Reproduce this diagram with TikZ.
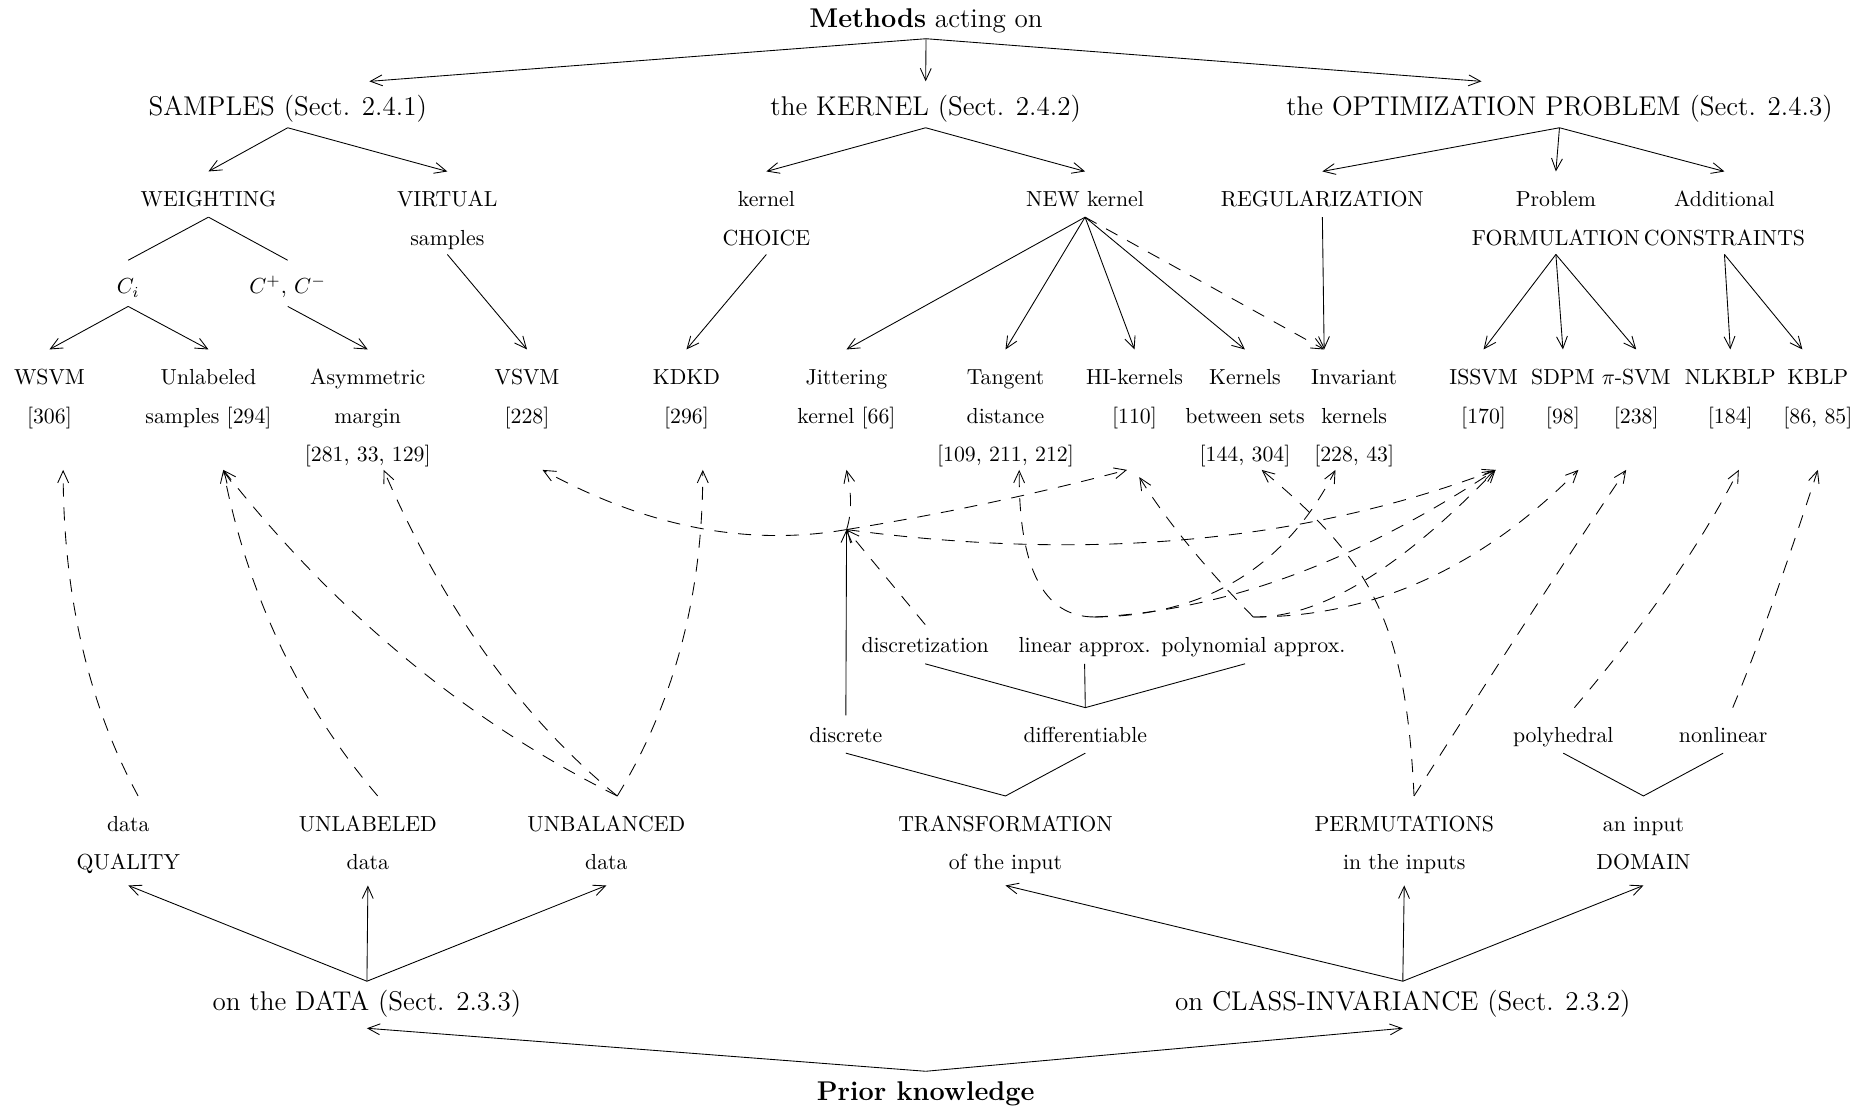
\documentclass[tikz,border=0pt]{standalone}
\usetikzlibrary{arrows.meta}

\newcommand{\nxt}{\\[5.65pt]}
\tikzset{
  lbl/.style={inner sep=0pt, align=center, anchor=base, text height=16pt},
  big/.style={lbl, font=\fontsize{12.45pt}{15pt}\selectfont},
  two/.style={text height=33.65pt},
  three/.style={text height=51.3pt},
  dp/.style={text depth=#1},
  dep/.style={->, dash pattern=on 6pt off 5pt}
}

\begin{document}
\begin{tikzpicture}[x=0.01922cm, y=-0.01922cm, >={Straight Barb[length=5.5pt,width=5pt]}]
\useasboundingbox (0,0) rectangle (1568,929);

\node[big, text height=9pt, dp=5pt] (methods) at (777.3,23) {\textbf{Methods} acting on};
\node[big, text height=15.5pt, dp=5.4pt] (samples) at (241.5,97) {SAMPLES (Sect. 2.4.1)};
\node[big, text height=15.5pt, dp=5.4pt] (kernel) at (777,97) {the KERNEL (Sect. 2.4.2)};
\node[big, text height=15.5pt, dp=5.4pt] (optim) at (1309,97) {the OPTIMIZATION PROBLEM (Sect. 2.4.3)};

\node[lbl, dp=4.6pt] (weighting) at (175,173.5) {WEIGHTING};
\node[lbl, two, dp=4.05pt] (virtual) at (375.5,205.8) {VIRTUAL\nxt samples};
\node[lbl, two, dp=4.05pt] (choice) at (643.3,205.8) {kernel\nxt CHOICE};
\node[lbl, dp=4.6pt] (newkernel) at (910.8,173.5) {NEW kernel};
\node[lbl, dp=4.6pt] (regul) at (1110,173.5) {REGULARIZATION};
\node[lbl, two, dp=4.05pt] (formul) at (1306,205.8) {Problem\nxt FORMULATION};
\node[lbl, two, dp=4.05pt] (constr) at (1447.5,205.8) {Additional\nxt CONSTRAINTS};

\node[lbl, text height=15.2pt, dp=5.6pt] (ci) at (107.6,246.6) {$C_i$};
\node[lbl, text height=15.2pt, dp=5.6pt] (cpm) at (241.5,246.6) {$C^+$, $C^-$};

\node[lbl, two, dp=21.25pt] (wsvm) at (41.5,355.2) {WSVM\nxt{[306]}};
\node[lbl, two, dp=21.25pt] (unlab) at (175,355.2) {Unlabeled\nxt samples [294]};
\node[lbl, three, dp=3.6pt] (asym) at (308.7,387.5) {Asymmetric\nxt margin\nxt{[281, 33, 129]}};
\node[lbl, two, dp=21.25pt] (vsvm) at (442.4,355.2) {VSVM\nxt{[228]}};
\node[lbl, two, dp=21.25pt] (kdkd) at (576.2,355.2) {KDKD\nxt{[296]}};
\node[lbl, two, dp=21.25pt] (jitter) at (710.5,355.2) {Jittering\nxt kernel [66]};
\node[lbl, three, dp=3.6pt] (tangent) at (844,387.5) {Tangent\nxt distance\nxt{[109, 211, 212]}};
\node[lbl, two, dp=21.25pt] (hik) at (952.3,355.2) {HI-kernels\nxt{[110]}};
\node[lbl, three, dp=3.6pt] (kbs) at (1045,387.5) {Kernels\nxt between sets\nxt{[144, 304]}};
\node[lbl, three, dp=3.6pt] (invariant) at (1136.7,387.5) {Invariant\nxt kernels\nxt{[228, 43]}};
\node[lbl, two, dp=21.25pt] (issvm) at (1245.3,355.2) {ISSVM\nxt{[170]}};
\node[lbl, two, dp=21.25pt] (sdpm) at (1311.9,355.2) {SDPM\nxt{[98]}};
\node[lbl, two, dp=21.25pt] (psvm) at (1373.4,355.2) {$\pi$-SVM\nxt{[238]}};
\node[lbl, two, dp=21.25pt] (nlkblp) at (1452.4,355.2) {NLKBLP\nxt{[184]}};
\node[lbl, two, dp=21.25pt] (kblp) at (1525.9,355.2) {KBLP\nxt{[86, 85]}};

\node[lbl, text height=12.5pt, dp=5.1pt] (discretiz) at (776.6,547.5) {discretization};
\node[lbl, dp=5.1pt] (linear) at (910.4,547.5) {linear approx.};
\node[lbl, dp=5.1pt] (polyn) at (1052,547.5) {polynomial approx.};
\node[lbl, text height=12.5pt, dp=4.5pt] (discrete) at (710,623.6) {discrete};
\node[lbl, dp=4.5pt] (differ) at (911,623.6) {differentiable};
\node[lbl, dp=4.5pt] (polyh) at (1312.2,623.6) {polyhedral};
\node[lbl, dp=4.5pt] (nonlin) at (1446.4,623.6) {nonlinear};

\node[lbl, two, dp=7.05pt] (quality) at (107.7,730) {data\nxt QUALITY};
\node[lbl, two, dp=7.05pt] (unlabdata) at (308.8,730) {UNLABELED\nxt data};
\node[lbl, two, dp=7.05pt] (unbal) at (509,730) {UNBALANCED\nxt data};
\node[lbl, two, dp=7.05pt] (transf) at (844,730) {TRANSFORMATION\nxt of the input};
\node[lbl, two, dp=7.05pt] (perm) at (1178.7,730) {PERMUTATIONS\nxt in the inputs};
\node[lbl, two, dp=7.05pt] (domain) at (1379.5,730) {an input\nxt DOMAIN};

\node[big, text height=13.3pt, dp=7.9pt] (ondata) at (308,848.3) {on the DATA (Sect. 2.3.3)};
\node[big, text height=13.3pt, dp=7.9pt] (onclass) at (1177.5,848.3) {on CLASS-INVARIANCE (Sect. 2.3.2)};
\node[big, text height=13.3pt] (prior) at (777,923.9) {\textbf{Prior knowledge}};

\coordinate (hub) at (710.6,444.5);

\draw[->] (methods.south) -- ([xshift=37.5pt]samples.north);
\draw[->] (methods.south) -- (kernel.north);
\draw[->] (methods.south) -- ([xshift=-35.8pt]optim.north);
\draw[->] (samples.south) -- (weighting.north);
\draw[->] (samples.south) -- (virtual.north);
\draw[->] (kernel.south) -- (choice.north);
\draw[->] (kernel.south) -- (newkernel.north);
\foreach \nd in {regul,formul,constr} \draw[->] (optim.south) -- (\nd.north);
\draw (weighting.south) -- (ci.north);
\draw (weighting.south) -- (cpm.north);
\draw[->] (ci.south) -- (wsvm.north);
\draw[->] (ci.south) -- (unlab.north);
\draw[->] (cpm.south) -- (asym.north);
\draw[->] (virtual.south) -- (vsvm.north);
\draw[->] (choice.south) -- (kdkd.north);
\foreach \nd in {jitter,tangent,hik,kbs} \draw[->] (newkernel.south) -- (\nd.north);
\draw[dep] (newkernel.south) -- ([xshift=-13.8pt]invariant.north);
\draw[->] (regul.south) -- ([xshift=-13.8pt]invariant.north);
\foreach \nd in {issvm,sdpm,psvm} \draw[->] (formul.south) -- (\nd.north);
\draw[->] (constr.south) -- (nlkblp.north);
\draw[->] (constr.south) -- ([xshift=-7.1pt]kblp.north);

\draw[->] (prior.north) -- (ondata.south);
\draw[->] (prior.north) -- (onclass.south);
\foreach \nd in {quality,unlabdata,unbal} \draw[->] (ondata.north) -- (\nd.south);
\foreach \nd in {transf,perm,domain} \draw[->] (onclass.north) -- (\nd.south);
\draw (discrete.south) -- (transf.north) -- (differ.south);
\draw (polyh.south) -- (domain.north) -- (nonlin.south);
\draw (discretiz.south) -- (differ.north) -- ([xshift=-3.8pt]polyn.south);
\draw (linear.south) -- (differ.north);
\draw[->] (discrete.north) -- (hub);
\draw[dep] (discretiz.north) -- (hub);

\draw[dep] ([xshift=4.5pt]quality.north) .. controls (74,591) and (53,499) .. ([xshift=6.3pt]wsvm.south);
\draw[dep] ([xshift=4.5pt]unlabdata.north) .. controls (252,592) and (208,500) .. ([xshift=6.8pt]unlab.south);
\draw[dep] ([xshift=5pt]unbal.north) .. controls (393,606) and (282,515) .. ([xshift=6.8pt]unlab.south);
\draw[dep] ([xshift=5pt]unbal.north) .. controls (438,603) and (373,512) .. ([xshift=7.3pt]asym.south);
\draw[dep] ([xshift=5pt]unbal.north) .. controls (566,590) and (590,499) .. ([xshift=7.5pt]kdkd.south);
\draw[dep] (hub) .. controls (627,459) and (542,442) .. ([xshift=7.1pt]vsvm.south);
\draw[dep] (hub) .. controls (716,428) and (714,410) .. (jitter.south);
\draw[dep] (hub) .. controls (794,431) and (872,414) .. ([xshift=-3.4pt]hik.south);
\draw[dep] (hub) .. controls (914,472) and (1095,455) .. ([xshift=5.5pt]issvm.south);
\draw[dep] ([xshift=4.7pt]linear.north) .. controls (876,518) and (855,477) .. ([xshift=6.3pt]tangent.south);
\draw[dep] ([xshift=4.7pt]linear.north) .. controls (1012,517) and (1079,476) .. ([xshift=-8.6pt]invariant.south);
\draw[dep] ([xshift=4.7pt]linear.north) .. controls (1026,513) and (1138,472) .. ([xshift=5.5pt]issvm.south);
\draw[dep] (polyn.north) .. controls (1011,476) and (979,437) .. ([xshift=2.2pt,yshift=-3.3pt]hik.south);
\draw[dep] (polyn.north) .. controls (1107,519) and (1175,478) .. ([xshift=5.5pt]issvm.south);
\draw[dep] (polyn.north) .. controls (1152,518) and (1243,477) .. ([xshift=7.1pt]sdpm.south);
\draw[dep] ([xshift=4.5pt]perm.north) .. controls (1180,520) and (1150,470) .. ([xshift=7.7pt]kbs.south);
\draw[dep] ([xshift=4.5pt]perm.north) .. controls (1240,585) and (1320,460) .. ([xshift=-4.6pt]psvm.south);
\draw[dep] ([xshift=5.1pt]polyh.north) .. controls (1381,524) and (1427,458) .. ([xshift=3.9pt]nlkblp.south);
\draw[dep] ([xshift=4.4pt]nonlin.north) .. controls (1477,540) and (1500,473) .. (kblp.south);
\end{tikzpicture}
\end{document}
